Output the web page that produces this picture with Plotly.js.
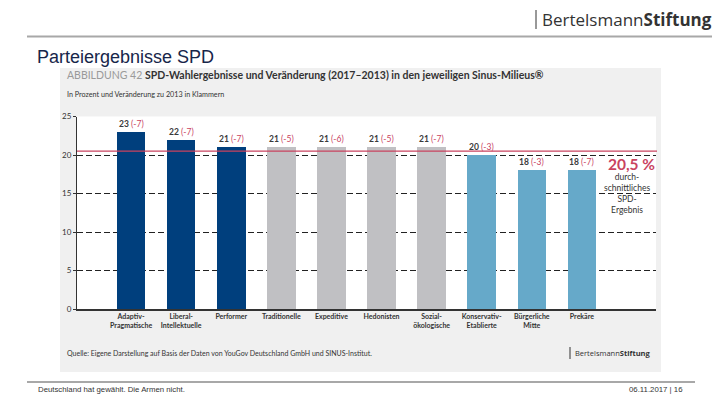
<!DOCTYPE html>
<html>
<head>
<meta charset="utf-8">
<script src="https://cdn.plot.ly/plotly-3.0.1.min.js"></script>
<style>html,body{margin:0;padding:0;background:#fff;}#chart{width:720px;height:405px;}</style>
</head>
<body>
<div id="chart"></div>
<script>
// ---- data ----
const categories = ["Adaptiv-<br>Pragmatische", "Liberal-<br>Intellektuelle", "Performer", "Traditionelle", "Expeditive", "Hedonisten", "Sozial-<br>ökologische", "Konservativ-<br>Etablierte", "Bürgerliche<br>Mitte", "Prekäre"];
const results2017 = [23, 22, 21, 21, 21, 21, 21, 20, 18, 18];
const changes = ["-7", "-7", "-7", "-5", "-6", "-5", "-7", "-3", "-3", "-7"];
const groups = ["dark", "dark", "dark", "grey", "grey", "grey", "grey", "light", "light", "light"];
const average = 20.5;
const yTicks = [0, 5, 10, 15, 20, 25];

const groupColors = {dark: "#003f7d", grey: "#c0c0c3", light: "#66a9c9"};
const W = 720, H = 405;
const px = x => x / W;
const py = y => 1 - y / H;

const trace = {
  type: "bar",
  x: categories,
  y: results2017,
  marker: {color: groups.map(g => groupColors[g]), line: {width: 0}},
  width: 0.57,
  hoverinfo: "none"
};

const annotations = results2017.map((v, i) => ({
  xref: "x", yref: "y", x: categories[i], y: v,
  yanchor: "bottom", yshift: 1, showarrow: false,
  text: "<b>" + v + "</b> <span style='color:#c9435f'>(" + changes[i] + ")</span>",
  font: {family: "Lato, sans-serif", size: 8.5, color: "#3a3a3a"}
}));

annotations.push(
  {xref: "paper", yref: "paper", x: px(35), y: py(57), xanchor: "left", yanchor: "middle", showarrow: false,
   text: "Parteiergebnisse SPD", font: {family: "Liberation Sans, Arial, sans-serif", size: 18, color: "#17264a"}},
  {xref: "paper", yref: "paper", x: px(540), y: py(19), xanchor: "left", yanchor: "middle", showarrow: false,
   text: "Bertelsmann<b>Stiftung</b>", font: {family: "Open Sans, sans-serif", size: 17, color: "#333"}},
  {xref: "paper", yref: "paper", x: px(65), y: py(75), xanchor: "left", yanchor: "middle", showarrow: false,
   text: "<span style='color:#9a9a9a'>ABBILDUNG 42 </span><b>SPD-Wahlergebnisse und Veränderung (2017–2013) in den jeweiligen Sinus-Milieus®</b>",
   font: {family: "Lato, sans-serif", size: 10.5, color: "#333"}},
  {xref: "paper", yref: "paper", x: px(65), y: py(95), xanchor: "left", yanchor: "middle", showarrow: false,
   text: "In Prozent und Veränderung zu 2013 in Klammern", font: {family: "Lato, sans-serif", size: 7.2, color: "#333"}},
  {xref: "paper", yref: "paper", x: px(631), y: py(164), xanchor: "center", yanchor: "middle", showarrow: false,
   text: "<b>20,5 %</b>", font: {family: "Lato, sans-serif", size: 15.5, color: "#c9435f"}},
  {xref: "paper", yref: "paper", x: px(627), y: py(193), xanchor: "center", yanchor: "middle", showarrow: false,
   text: "durch-<br>schnittliches<br>SPD-<br>Ergebnis", align: "center",
   font: {family: "Lato, sans-serif", size: 8.5, color: "#333"}},
  {xref: "paper", yref: "paper", x: px(65), y: py(353), xanchor: "left", yanchor: "middle", showarrow: false,
   text: "Quelle: Eigene Darstellung auf Basis der Daten von YouGov Deutschland GmbH und SINUS-Institut.",
   font: {family: "Lato, sans-serif", size: 7, color: "#333"}},
  {xref: "paper", yref: "paper", x: px(573), y: py(353), xanchor: "left", yanchor: "middle", showarrow: false,
   text: "Bertelsmann<b>Stiftung</b>", font: {family: "Open Sans, sans-serif", size: 7.5, color: "#333"}},
  {xref: "paper", yref: "paper", x: px(36), y: py(389), xanchor: "left", yanchor: "middle", showarrow: false,
   text: "Deutschland hat gewählt. Die Armen nicht.", font: {family: "Liberation Sans, Arial, sans-serif", size: 7.8, color: "#333"}},
  {xref: "paper", yref: "paper", x: px(684), y: py(389), xanchor: "right", yanchor: "middle", showarrow: false,
   text: "06.11.2017 | 16", font: {family: "Liberation Sans, Arial, sans-serif", size: 7.8, color: "#333"}}
);

const shapes = [
  {type: "rect", xref: "paper", yref: "paper", x0: px(60), x1: px(661), y0: py(68), y1: py(372),
   fillcolor: "#f0f0f0", line: {width: 0}, layer: "below"},
  {type: "rect", xref: "paper", yref: "paper", x0: px(77), x1: px(656), y0: py(309), y1: py(116.5),
   fillcolor: "#ffffff", line: {width: 0}, layer: "below"},
  {type: "line", xref: "paper", yref: "paper", x0: px(27), x1: px(712), y0: py(36.5), y1: py(36.5),
   line: {color: "#a8a8a8", width: 2}},
  {type: "line", xref: "paper", yref: "paper", x0: px(27), x1: px(695), y0: py(382), y1: py(382),
   line: {color: "#a8a8a8", width: 2}},
  {type: "line", xref: "paper", yref: "paper", x0: px(536), x1: px(536), y0: py(10), y1: py(29),
   line: {color: "#333", width: 1}},
  {type: "line", xref: "paper", yref: "paper", x0: px(570), x1: px(570), y0: py(347), y1: py(359),
   line: {color: "#333", width: 1}},
  {type: "line", xref: "paper", yref: "y", x0: px(77), x1: px(657), y0: average, y1: average,
   line: {color: "#c9435f", width: 1.2}, layer: "above"}
];

const layout = {
  width: W, height: H,
  margin: {l: 0, r: 0, t: 0, b: 0},
  paper_bgcolor: "#ffffff",
  plot_bgcolor: "rgba(0,0,0,0)",
  showlegend: false,
  bargap: 0,
  xaxis: {
    domain: [px(77), px(656)],
    type: "category",
    range: [-1.08, 10.48],
    showgrid: false, zeroline: false,
    showline: true, linecolor: "#333", linewidth: 1.5,
    ticks: "", tickfont: {family: "Lato, sans-serif", size: 7, color: "#333", weight: "bold"},
    fixedrange: true
  },
  yaxis: {
    domain: [1 - 309 / H, 1 - 116.5 / H],
    range: [0, 25],
    tickvals: yTicks,
    ticktext: yTicks.map(String),
    showgrid: true, gridcolor: "#222", gridwidth: 1, griddash: "6px,3px",
    zeroline: false,
    showline: true, linecolor: "#333", linewidth: 1,
    ticks: "outside", ticklen: 3, tickcolor: "#333",
    tickfont: {family: "Lato, sans-serif", size: 8, color: "#333"},
    fixedrange: true
  },
  shapes: shapes,
  annotations: annotations
};

Plotly.newPlot("chart", [trace], layout, {staticPlot: true, displayModeBar: false});
</script>
</body>
</html>
